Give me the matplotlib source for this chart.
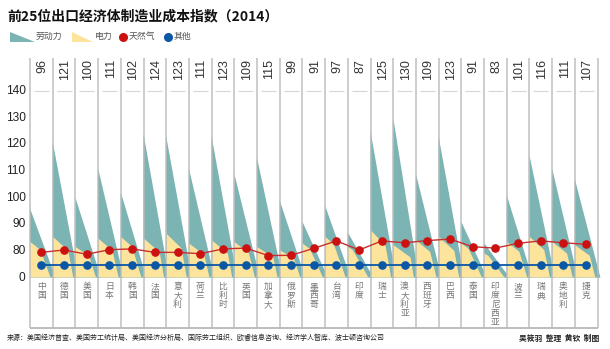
import matplotlib
matplotlib.use("Agg")
import matplotlib.pyplot as plt
from matplotlib.patches import Polygon

plt.rcParams["font.family"] = ["Liberation Sans", "Noto Sans CJK SC", "DejaVu Sans"]

# ---------------------------------------------------------------------------
# Data (values on the chart's broken axis, 70 == "0")
# ---------------------------------------------------------------------------
COUNTRIES = ["中国", "德国", "美国", "日本", "韩国", "法国", "意大利", "荷兰",
             "比利时", "英国", "加拿大", "俄罗斯", "墨西哥", "台湾", "印度",
             "瑞士", "澳大利亚", "西班牙", "巴西", "泰国", "印度尼西亚",
             "波兰", "瑞典", "奥地利", "捷克"]
INDEX = [96, 121, 100, 111, 102, 124, 123, 111, 123, 109, 115, 99, 91,
         97, 87, 125, 130, 109, 123, 91, 83, 101, 116, 111, 107]
ELEC = [83.5, 85.4, 81.6, 84.8, 85.4, 84.8, 86.6, 82.9, 84.1, 83.5, 81.6,
        80.4, 82.9, 85.4, 81.6, 87.9, 82.3, 84.1, 85.4, 82.9, 79.1, 83.5,
        85.4, 83.5, 82.3]
GAS = [79.5, 80.4, 78.8, 80.5, 80.8, 79.5, 79.5, 79.0, 80.8, 81.1, 78.3,
       78.4, 81.0, 83.8, 80.4, 83.8, 83.1, 83.9, 84.5, 81.6, 81.1, 82.9,
       83.8, 83.1, 82.5]
OTHER = [74.6, 74.6, 74.6, 74.6, 74.6, 74.6, 74.6, 74.6, 74.6, 74.6, 74.6,
         74.6, 74.6, 74.6, 74.6, 74.6, 74.6, 74.6, 74.6, 74.6, 74.6, 74.6,
         74.6, 74.6, 74.6]

YTICKS = [70, 80, 90, 100, 110, 120, 130, 140]
YTICK_LABELS = ["0", "80", "90", "100", "110", "120", "130", "140"]

TITLE = "前25位出口经济体制造业成本指数（2014）"
LEGEND = ["劳动力", "电力", "天然气", "其他"]
SOURCE = ("来源：美国经济普查、美国劳工统计局、美国经济分析局、国际劳工组织、"
          "欧睿信息咨询、经济学人智库、波士顿咨询公司")
CREDIT = "吴筱羽  整理  黄钦  制图"

# ---------------------------------------------------------------------------
# Style / layout
# ---------------------------------------------------------------------------
TEAL = "#7cb3b3"
YELLOW = "#fde49c"
RED = "#cc1111"
RED_LINE = "#c83030"
BLUE = "#0a57a6"
GRID = "#b8b8b8"
BASE = 70

TEAL_LEN = 1.13    # teal triangle base, in column widths
GAP = 0.22         # teal stripe left between yellow and teal edge
YEL_LEN = 2.0      # shallow yellow slope before it is cut by the stripe

W, H, DPI = 610, 349, 100
COL_W = 22.7        # px per column
PX_PER_PT = 2.667   # px per index point
X0, Y0 = 30.0, 277.7  # px of first column line / baseline

fig = plt.figure(figsize=(W / DPI, H / DPI), dpi=DPI)
ax = fig.add_axes([0, 0, 1, 1])
ax.set_xlim(-X0 / COL_W, (W - X0) / COL_W)
ax.set_ylim(BASE - (H - Y0) / PX_PER_PT, BASE + Y0 / PX_PER_PT)
ax.axis("off")


def py(px):
    return BASE + (Y0 - px) / PX_PER_PT


def fx(px):
    return px / W


def fy(px):
    return 1 - px / H


n = len(COUNTRIES)

# triangles (drawn column by column so the next column covers the overflow)
for i, (tot, el) in enumerate(zip(INDEX, ELEC)):
    ax.fill([i, i, i + TEAL_LEN], [BASE, tot, BASE], color=TEAL, lw=0, zorder=2)
    # yellow is cut by a line parallel to the teal edge, leaving a teal stripe
    top_cut = tot - (tot - BASE) * GAP / TEAL_LEN
    clip = Polygon([(i, BASE), (i, top_cut), (i + TEAL_LEN - GAP, BASE)],
                   closed=True, transform=ax.transData, fc="none", ec="none")
    ax.add_patch(clip)
    for p in ax.fill([i, i, i + YEL_LEN], [BASE, el, BASE], color=YELLOW,
                     lw=0, zorder=2):
        p.set_clip_path(clip)

# column frame
ax.vlines(range(n + 1), py(328), py(58), color=GRID, lw=1.3, alpha=0.75, zorder=3)
ax.hlines(py(328), 0, n, color=GRID, lw=1.3, zorder=3)
ax.hlines([140] * n, [i + 0.17 for i in range(n)], [i + 0.83 for i in range(n)],
          color="#d6d6d6", lw=0.8, zorder=3)

# natural gas / other
xc = [i + 0.5 for i in range(n)]
ax.plot(xc, OTHER, color=BLUE, lw=1.3, marker="o", ms=5.2, mec=BLUE, mfc=BLUE, zorder=4)
ax.plot(xc, GAS, color=RED_LINE, lw=1.0, marker="o", ms=5.2, mec=RED, mfc=RED, zorder=5)

# y tick labels
for v, lab in zip(YTICKS, YTICK_LABELS):
    ax.text(-0.2, v, lab, ha="right", va="center", fontsize=8.6, color="#222")

# header numbers and country labels
for i, (name, v) in enumerate(zip(COUNTRIES, INDEX)):
    ax.text(i + 0.55, py(59), str(v), rotation=90, ha="center", va="top",
            fontsize=9, color="#333")
    ax.text(i + 0.5, py(282), "\n".join(name), ha="center", va="top",
            fontsize=6.3, color="#777", linespacing=1.0,
            family=["Noto Sans CJK SC"])

# title, legend, footer in pixel space
lg = fig.add_axes([0, 0, 1, 1])
lg.set_xlim(0, W)
lg.set_ylim(H, 0)
lg.axis("off")

fig.text(fx(7), fy(16), TITLE, fontsize=10, fontweight="bold", color="#111",
         va="center", ha="left", family=["Noto Sans CJK SC"])

lg.fill([10, 10, 35], [31.5, 41.5, 41.5], color=TEAL, lw=0)
lg.fill([72, 72, 93], [31.5, 41.5, 41.5], color=YELLOW, lw=0)
lg.plot([123], [36.5], "o", ms=5.5, color=RED)
lg.plot([168], [36.5], "o", ms=5.5, color=BLUE)
for x, lab in zip([36, 95, 129, 174], LEGEND):
    fig.text(fx(x), fy(36.5), lab, fontsize=6.4, color="#555", va="center",
             ha="left", family=["Noto Sans CJK SC"])

fig.text(fx(7), fy(338), SOURCE, fontsize=5.0, color="#222", va="center",
         ha="left", family=["Noto Sans CJK SC"], fontweight="medium")
fig.text(fx(599), fy(338), CREDIT, fontsize=5.6, color="#222", va="center",
         ha="right", family=["Noto Sans CJK SC"], fontweight="bold")

fig.savefig("out.png", dpi=DPI)
